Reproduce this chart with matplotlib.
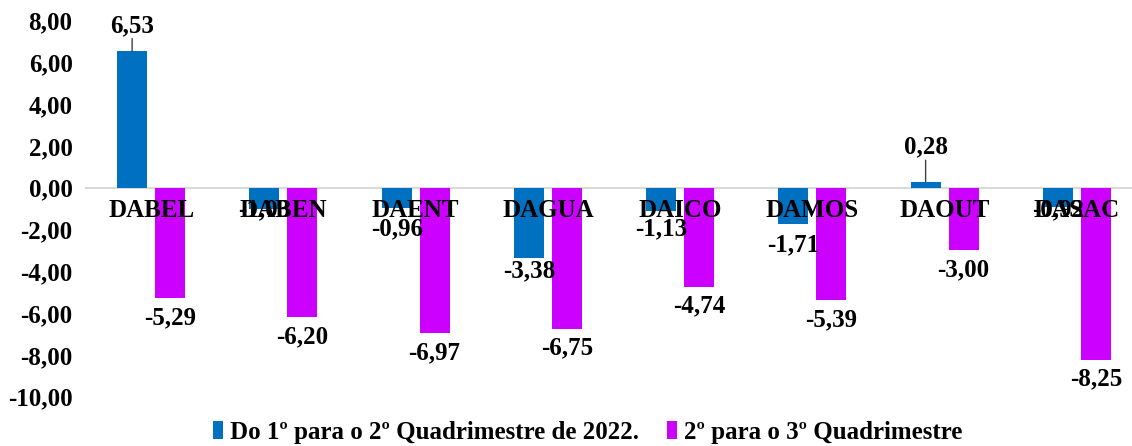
import numpy as np
import matplotlib.pyplot as plt

categories = ["DABEL", "DABEN", "DAENT", "DAGUA", "DAICO", "DAMOS", "DAOUT", "DASAC"]
q1_q2 = [6.53, -1.03, -0.96, -3.38, -1.13, -1.71, 0.28, -0.92]
q2_q3 = [-5.29, -6.20, -6.97, -6.75, -4.74, -5.39, -3.00, -8.25]
series_names = ["Do 1º para o 2º Quadrimestre de 2022.", "2º para o 3º Quadrimestre"]
yticks = [8, 6, 4, 2, 0, -2, -4, -6, -8, -10]

BLUE = "#0070C0"
MAGENTA = "#CC00FF"
FONT = "Liberation Serif"
FS = 18


def fmt(v):
    return f"{v:.2f}".replace(".", ",")


plt.rcParams["font.family"] = FONT
plt.rcParams["font.weight"] = "bold"

fig = plt.figure(figsize=(11.32, 4.46), dpi=100)
ax = fig.add_axes([85 / 1132, 49.3 / 446, 1058 / 1132, 376 / 446])

x = np.arange(len(categories))
w = 30 / 132.3
off = 19 / 132.3
ax.bar(x - off, q1_q2, w, color=BLUE, label=series_names[0], zorder=2)
ax.bar(x + off, q2_q3, w, color=MAGENTA, label=series_names[1], zorder=2)

ax.set_xlim(-0.5, 7.5)
ax.set_ylim(-10, 8)
ax.axhline(0, color="#d9d9d9", lw=1.5, zorder=1)
for s in ax.spines.values():
    s.set_visible(False)
ax.set_xticks([])
ax.set_yticks(yticks)
ax.set_yticklabels([fmt(v) for v in yticks], fontsize=FS, fontweight="bold")
ax.tick_params(axis="y", length=0, pad=9)

# category names just under the zero line
for i, c in enumerate(categories):
    ax.annotate(c, (i, 0), xytext=(0, -16), textcoords="offset points",
                ha="center", va="center", fontsize=FS, fontweight="bold", zorder=3)

# blue labels: pixel offsets from bar end (positive = away from bar)
blue_off = [26, 0, 21, 12, 17, 21, 35, 3]
for i, v in enumerate(q1_q2):
    d = blue_off[i] * 0.72
    sign = 1 if v > 0 else -1
    ax.annotate(fmt(v), (i - off, v), xytext=(0, sign * d), textcoords="offset points",
                ha="center", va="center", fontsize=FS, fontweight="bold", zorder=4)
    if v > 0:
        ax.annotate("", (i - off, v), xytext=(0, d - 9.5), textcoords="offset points",
                    arrowprops=dict(arrowstyle="-", color="#404040", lw=1,
                                    shrinkA=0, shrinkB=0))

for i, v in enumerate(q2_q3):
    ax.annotate(fmt(v), (i + off, v), xytext=(0, -19 * 0.72), textcoords="offset points",
                ha="center", va="center", fontsize=FS, fontweight="bold", zorder=4)

leg = fig.legend(loc="center", bbox_to_anchor=(0.519, 14 / 446), ncol=2, frameon=False,
                 handlelength=0.4, handleheight=0.7, handletextpad=0.3,
                 columnspacing=1.1, prop={"family": FONT, "weight": "bold", "size": FS})

fig.savefig("out.png", dpi=100)
